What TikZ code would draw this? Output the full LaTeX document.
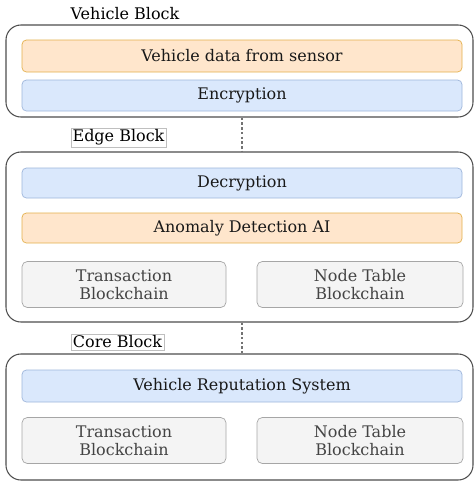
\documentclass[tikz,border=0pt]{standalone}
\usepackage{fontspec}
\setmainfont{DejaVu Serif}
\usetikzlibrary{positioning}

\definecolor{orangefill}{HTML}{FFE6CC}
\definecolor{orangeline}{HTML}{E3B04B}
\definecolor{bluefill}{HTML}{DAE8FC}
\definecolor{blueline}{HTML}{9DB5DA}
\definecolor{grayfill}{HTML}{F4F4F4}
\definecolor{grayline}{HTML}{A6A6A6}
\definecolor{graytext}{HTML}{444444}
\definecolor{blockline}{HTML}{4D4D4D}

\tikzset{
    every node/.style={font=\fontsize{9.1}{10.3}\selectfont, inner sep=0pt},
    block/.style={draw=blockline, line width=0.6pt, rounded corners=8.5pt, minimum width=467*0.02cm},
    wide/.style={rounded corners=2.5pt, minimum width=440*0.02cm, text=black!90},
    datapart/.style={wide, draw=orangeline, fill=orangefill},
    cryptpart/.style={wide, draw=blueline, fill=bluefill},
    chain/.style={draw=grayline, fill=grayfill, text=graytext, rounded corners=3pt,
                  align=center, minimum height=46*0.02cm},
    blocklabel/.style={draw=black!25, line width=0.3pt, inner sep=1pt},
    link/.style={draw=black!55, dash pattern=on 1.5pt off 1.2pt, line width=0.6pt}
}

\begin{document}
\begin{tikzpicture}[x=0.02cm, y=-0.02cm]
    \useasboundingbox (0,0) rectangle (474,481);

    % vehicle
    \node[block, minimum height=92*0.02cm] (vblock) at (239.5,71) {};
    \node (vlabel) at (125,14) {Vehicle Block};
    \node[datapart, minimum height=32*0.02cm] (sensor) at (242,56) {Vehicle data from sensor};
    \node[cryptpart, minimum height=31*0.02cm] (enc) at (242,95.5) {Encryption};

    % edge
    \node[block, minimum height=170*0.02cm] (eblock) at (239.5,237) {};
    \node[blocklabel] (elabel) at (118.5,137.5) {Edge Block};
    \node[cryptpart, minimum height=30*0.02cm] (dec) at (242,183) {Decryption};
    \node[datapart, minimum height=30*0.02cm] (anomaly) at (242,228) {Anomaly Detection AI};
    \node[chain, minimum width=204*0.02cm] (etrans) at (124,284.5) {Transaction\\Blockchain};
    \node[chain, minimum width=206*0.02cm] (etable) at (360,284.5) {Node Table\\Blockchain};

    % core
    \node[block, minimum height=126*0.02cm] (cblock) at (239.5,417) {};
    \node[blocklabel] (clabel) at (117.5,342) {Core Block};
    \node[cryptpart, minimum height=32*0.02cm] (rep) at (242,386) {Vehicle Reputation System};
    \node[chain, minimum width=204*0.02cm] (ctrans) at (124,440.5) {Transaction\\Blockchain};
    \node[chain, minimum width=206*0.02cm] (ctable) at (360,440.5) {Node Table\\Blockchain};

    \draw[link] (enc |- vblock.south) -- (enc |- eblock.north);
    \draw[link] (enc |- eblock.south) -- (enc |- cblock.north);
\end{tikzpicture}
\end{document}
